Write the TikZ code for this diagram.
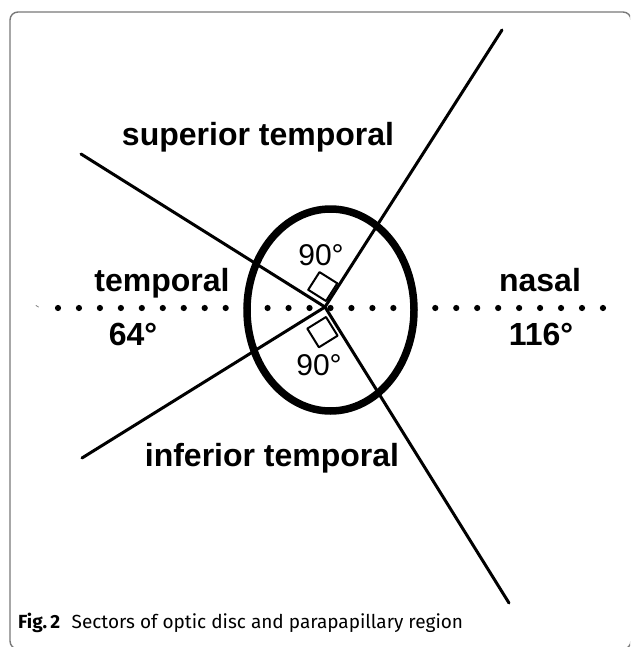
\documentclass[tikz,border=0pt]{standalone}
\usepackage{fontspec}
\setmainfont{Liberation Sans}
\newfontfamily\capfont{Fira Sans}
\usetikzlibrary{calc}
\definecolor{frameGray}{RGB}{120,120,120}

\begin{document}
\begin{tikzpicture}[x=1pt,y=-1pt,line cap=round,line join=round,
        ray/.style={line width=3pt},
        disc/.style={line width=7.5pt},
        rightangle/.style={line width=2pt},
        sector/.style={font=\fontsize{32}{36}\selectfont\bfseries,anchor=base,inner sep=0pt},
        angl/.style={font=\fontsize{30}{34}\selectfont,anchor=base,inner sep=0pt}]
  \useasboundingbox (0,0) rectangle (630,647);
  \clip (0,0) rectangle (630,647);
  \draw[frameGray,line width=1.4pt,rounded corners=8pt] (10,12) rectangle (631,649);

  % rays from the centre of the disc
  \coordinate (C) at (325,307);
  \coordinate (ul) at (81,154);
  \coordinate (ll) at (82,458);
  \coordinate (ur) at (502,30);
  \coordinate (lr) at (509,603);
  \foreach \e in {ul,ll,ur,lr}
    \draw[ray] (C) -- (\e);

  % optic disc
  \draw[disc] (330.5,310) ellipse [x radius=83.5, y radius=101];

  % horizontal dotted axis
  \foreach \i in {0,...,26}
    \fill (58+20.96*\i,308) circle (3.1);
  \draw[line width=0.8pt,gray] (36,305.5) -- (38.5,307);

  % right angle marks
  \coordinate (sqU) at (326,301);
  \coordinate (sqL) at (326,317);
  \draw[rightangle] (sqU) -- ++(-17.8,-11.2) -- ++(11.3,-17.7) -- ++(17.8,11.2) -- cycle;
  \draw[rightangle] (sqL) -- ++(-18.7,11.6) -- ++(11.6,18.7) -- ++(18.7,-11.6) -- cycle;

  \node[sector] (sup) at (258,146) {superior temporal};
  \node[sector] (tmp) at (162,291) {temporal};
  \node[sector] (tmpA) at (133,345) {64°};
  \node[sector] (nas) at (540,291) {nasal};
  \node[sector] (nasA) at (541,345) {116°};
  \node[sector] (inf) at (272,466) {inferior temporal};
  \node[angl] (rU) at (321,265) {90°};
  \node[angl] (rL) at (319,375) {90°};

  \node[anchor=base west,inner sep=0pt,font=\capfont\fontsize{19}{22}\selectfont] (cap) at (18,628)
    {\textbf{Fig.\,2}\hspace{0.6em}Sectors of optic disc and parapapillary region};
\end{tikzpicture}
\end{document}
